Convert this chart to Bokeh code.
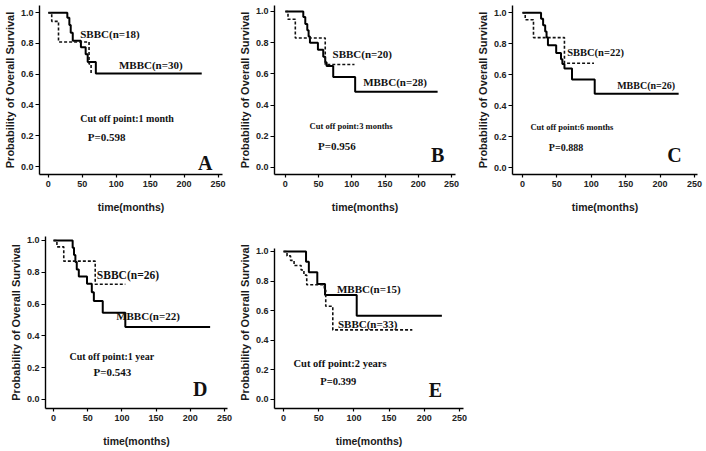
from bokeh.plotting import figure
from bokeh.layouts import column, row
from bokeh.models import FixedTicker, NumeralTickFormatter, Range1d
from bokeh.core.properties import value
from bokeh.embed import file_html
from bokeh.resources import INLINE

# ---------------- data ----------------
x_ticks = [0, 50, 100, 150, 200, 250]
y_ticks = [0.0, 0.2, 0.4, 0.6, 0.8, 1.0]
x_title = "time(months)"
y_title = "Probability of Overall Survival"

# Panel A (cut off 1 month)
a_mbbc_t = [0, 28, 31, 33, 36, 48, 55, 58, 70, 226]
a_mbbc_s = [1.0, 0.967, 0.92, 0.87, 0.818, 0.775, 0.73, 0.68, 0.605, 0.605]
a_sbbc_t = [0, 5, 15, 60, 63, 64]
a_sbbc_s = [1.0, 0.944, 0.81, 0.667, 0.60, 0.60]
a_texts = ["SBBC(n=18)", "MBBC(n=30)", "Cut off point:1 month", "P=0.598", "A"]

# Panel B (cut off 3 months)
b_mbbc_t = [0, 27, 30, 33, 35, 37, 49, 57, 60, 62, 72, 105, 229]
b_mbbc_s = [1.0, 0.964, 0.92, 0.88, 0.84, 0.80, 0.755, 0.71, 0.675, 0.65, 0.58, 0.485, 0.485]
b_sbbc_t = [0, 4, 15, 60, 104]
b_sbbc_s = [1.0, 0.95, 0.83, 0.66, 0.66]
b_texts = ["SBBC(n=20)", "MBBC(n=28)", "Cut off point:3 months", "P=0.956", "B"]

# Panel C (cut off 6 months)
c_mbbc_t = [0, 27, 30, 33, 35, 37, 49, 56, 58, 61, 72, 105, 227]
c_mbbc_s = [1.0, 0.962, 0.92, 0.88, 0.84, 0.79, 0.74, 0.70, 0.67, 0.64, 0.57, 0.478, 0.478]
c_sbbc_t = [0, 4, 16, 61, 104]
c_sbbc_s = [1.0, 0.955, 0.84, 0.675, 0.675]
c_texts = ["SBBC(n=22)", "MBBC(n=26)", "Cut off point:6 months", "P=0.888", "C"]

# Panel D (cut off 1 year)
d_mbbc_t = [0, 28, 30, 32, 34, 37, 49, 56, 59, 72, 105, 229]
d_mbbc_s = [1.0, 0.955, 0.909, 0.864, 0.818, 0.773, 0.727, 0.675, 0.62, 0.545, 0.455, 0.455]
d_sbbc_t = [0, 5, 15, 61, 105]
d_sbbc_s = [1.0, 0.96, 0.87, 0.725, 0.725]
d_texts = ["SBBC(n=26)", "MBBC(n=22)", "Cut off point:1 year", "P=0.543", "D"]

# Panel E (cut off 2 years)
e_mbbc_t = [0, 32, 36, 48, 59, 104, 225]
e_mbbc_s = [1.0, 0.93, 0.86, 0.78, 0.705, 0.565, 0.565]
e_sbbc_t = [0, 5, 10, 15, 25, 29, 33, 58, 60, 70, 183]
e_sbbc_s = [1.0, 0.97, 0.94, 0.905, 0.875, 0.84, 0.775, 0.74, 0.63, 0.47, 0.47]
e_texts = ["MBBC(n=15)", "SBBC(n=33)", "Cut off point:2 years", "P=0.399", "E"]

AX_FONT = "Liberation Sans"
ANN_FONT = "Liberation Serif"


def km_panel(width, height, left, right, top, bottom, xr, yr):
    p = figure(width=width, height=height, x_range=Range1d(*xr), y_range=Range1d(*yr),
               output_backend="svg", toolbar_location=None,
               min_border_left=left, min_border_right=right,
               min_border_top=top, min_border_bottom=bottom)
    p.xgrid.visible = False
    p.ygrid.visible = False
    p.outline_line_color = None
    p.background_fill_color = "white"
    p.border_fill_color = "white"
    p.xaxis.ticker = FixedTicker(ticks=x_ticks)
    p.yaxis.ticker = FixedTicker(ticks=y_ticks)
    p.yaxis.formatter = NumeralTickFormatter(format="0.0")
    for ax in (p.xaxis[0], p.yaxis[0]):
        ax.axis_line_color = "black"
        ax.axis_line_width = 1.4
        ax.major_tick_line_color = "black"
        ax.major_tick_line_width = 1.2
        ax.major_tick_in = 0
        ax.major_tick_out = 4
        ax.minor_tick_line_color = None
        ax.major_label_text_font = AX_FONT
        ax.major_label_text_font_style = "bold"
        ax.major_label_text_font_size = "9px"
        ax.major_label_text_color = "#222222"
        ax.axis_label_text_font = AX_FONT
        ax.axis_label_text_font_style = "bold"
        ax.axis_label_text_color = "#1a1a1a"
    p.xaxis.axis_label = x_title
    p.xaxis.axis_label_text_font_size = "10.5px"
    p.xaxis.major_label_standoff = 3
    p.xaxis.axis_label_standoff = 11
    p.xaxis.major_tick_out = 3
    p.yaxis.axis_label = y_title
    p.yaxis.axis_label_text_font_size = "11px"
    p.yaxis.major_label_standoff = 2
    p.yaxis.axis_label_standoff = 2
    return p


def draw_curves(p, mt, ms, st, ss):
    p.step(mt, ms, mode="after", line_color="black", line_width=2.0)
    p.step(st, ss, mode="after", line_color="#111111", line_width=1.6, line_dash="3 2")


def label(p, x, y, txt, size, align="left"):
    p.text(x=[x], y=[y], text=[txt], text_font=value(ANN_FONT), text_font_style="bold",
           text_font_size=size, text_align=align, text_baseline="middle", text_color="#111111")


# ---- top row (height 218) ----
pA = km_panel(235, 218, 36, 13, 5, 44, (-13, 256.6), (-0.052, 1.047))
draw_curves(pA, a_mbbc_t, a_mbbc_s, a_sbbc_t, a_sbbc_s)
label(pA, 47, 0.864, a_texts[0], "11px")
label(pA, 104, 0.662, a_texts[1], "11px")
label(pA, 47, 0.31, a_texts[2], "10px")
label(pA, 58, 0.195, a_texts[3], "11px")
label(pA, 231, 0.02, a_texts[4], "20px", "center")

pB = km_panel(235, 218, 36, 15, 5, 44, (-16.3, 255.9), (-0.045, 1.038))
draw_curves(pB, b_mbbc_t, b_mbbc_s, b_sbbc_t, b_sbbc_s)
label(pB, 71, 0.729, b_texts[0], "11px")
label(pB, 117, 0.547, b_texts[1], "11px")
label(pB, 36.5, 0.269, b_texts[2], "8.5px")
label(pB, 49, 0.135, b_texts[3], "11px")
label(pB, 229, 0.077, b_texts[4], "20px", "center")

pC = km_panel(236, 218, 42, 9, 5, 44, (-14.5, 254.4), (-0.043, 1.047))
draw_curves(pC, c_mbbc_t, c_mbbc_s, c_sbbc_t, c_sbbc_s)
label(pC, 65, 0.746, c_texts[0], "10.5px")
label(pC, 137.6, 0.531, c_texts[1], "10px")
label(pC, 11.6, 0.262, c_texts[2], "8.5px")
label(pC, 38.3, 0.133, c_texts[3], "10px")
label(pC, 221, 0.08, c_texts[4], "20px", "center")

# ---- bottom row (height 233) ----
pD = km_panel(235, 233, 45, 8, 18, 43, (-11.7, 254.4), (-0.057, 1.025))
draw_curves(pD, d_mbbc_t, d_mbbc_s, d_sbbc_t, d_sbbc_s)
label(pD, 63.4, 0.784, d_texts[0], "11.5px")
label(pD, 91.6, 0.528, d_texts[1], "11px")
label(pD, 23.4, 0.27, d_texts[2], "10px")
label(pD, 58.5, 0.172, d_texts[3], "11px")
label(pD, 214.4, 0.067, d_texts[4], "20px", "center")

pE = km_panel(235, 233, 39, 7, 18, 43, (-12.8, 255.7), (-0.061, 1.101))
pE.yaxis.bounds = (-0.061, 1.02)
draw_curves(pE, e_mbbc_t, e_mbbc_s, e_sbbc_t, e_sbbc_s)
label(pE, 75.9, 0.748, e_texts[0], "11px")
label(pE, 77.3, 0.511, e_texts[1], "11px")
label(pE, 14.2, 0.241, e_texts[2], "10.5px")
label(pE, 52.2, 0.122, e_texts[3], "10.5px")
label(pE, 215.8, 0.061, e_texts[4], "20px", "center")

layout = column(row(pA, pB, pC), row(pD, pE))
open("out.html", "w").write(file_html(layout, INLINE))
